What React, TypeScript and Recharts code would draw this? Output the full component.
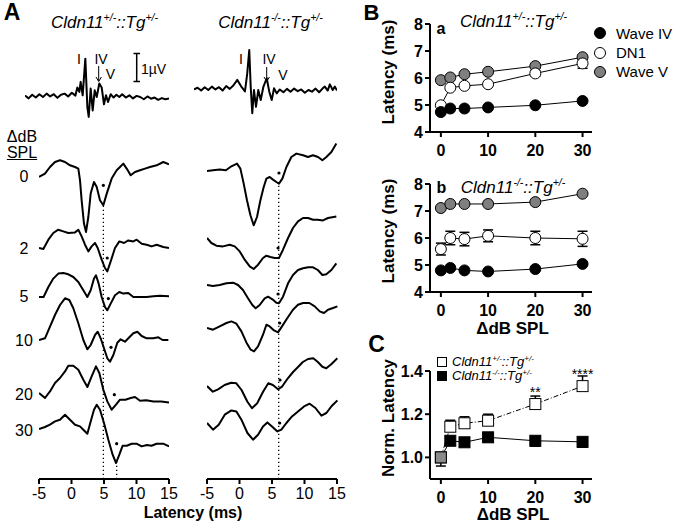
import React from 'react';
import {
	LineChart,
	Line,
	XAxis,
	YAxis,
	ErrorBar,
	ReferenceLine,
	ReferenceDot,
	LabelList,
} from 'recharts';

const FONT = '"Liberation Sans", Arial, Helvetica, sans-serif';

type Pt = [number, number];

// ---- Panel A: averaged ABR (top, µV) vs latency (ms)
const hetAvg: Pt[] = [
	[-5, 0.05], [-4.5, -0.05], [-4, 0.08], [-3.5, -0.02], [-3, 0.1], [-2.5, 0], [-2, 0.12],
	[-1.5, 0.02], [-1, 0.1], [-0.5, -0.03], [0, 0.08], [0.5, 0.12], [1, 0.02], [1.5, 0.15],
	[2, 0.05], [2.27, 0.34], [2.55, 0.18], [2.73, 0.54], [3.01, 0.06], [3.38, 1.37],
	[3.66, -0.36], [3.85, -0.71], [4.12, 0.3], [4.4, -0.48], [4.68, 0.24], [4.96, 0],
	[5.32, 0.48], [5.65, 0.34], [5.97, -0.26], [6.25, 0.06], [6.53, -0.18], [6.9, 0.1],
	[7.3, -0.02], [7.7, 0.08], [8.1, 0], [8.5, 0.1], [9, -0.02], [9.5, 0.06], [10, -0.05],
	[10.5, 0.04], [11, 0], [11.5, -0.08], [12, 0.02], [12.5, -0.06], [13, -0.02],
	[13.5, -0.1], [14, -0.04], [14.5, -0.08], [15, -0.05],
];
const koAvg: Pt[] = [
	[-5, 0.02], [-4.5, 0.08], [-4, -0.02], [-3.5, 0.1], [-3, 0], [-2.5, 0.12], [-2, 0.02],
	[-1.5, 0.1], [-1, -0.02], [-0.5, 0.14], [0, 0.04], [0.5, 0.16], [1.06, 0.36], [1.67, 0.1],
	[2.13, -0.05], [2.45, 0.6], [2.73, 1.43], [2.93, 0.12], [3.15, -0.83], [3.39, 0],
	[3.67, -0.6], [3.99, 0], [4.33, -0.36], [4.69, 0.1], [5.17, 0.42], [5.53, -0.06],
	[5.87, -0.36], [6.19, 0.06], [6.57, -0.12], [7, 0.02], [7.5, -0.08], [8, 0.04],
	[8.5, -0.06], [9, 0.05], [9.5, -0.04], [10, 0.02], [10.5, -0.1], [11, 0], [11.5, -0.06],
	[12, 0.05], [12.5, -0.08], [13, 0.06], [13.3, 0.12], [13.7, -0.02], [14, 0.2],
	[14.4, 0], [14.7, 0.12], [15, -0.02],
];

// ---- Panel A: waveforms per ΔdB SPL step (amplitude, a.u.)
const dbSteps = ['0', '2', '5', '10', '20', '30'];

const het0: Pt[] = [
	[-5, 0], [-4.08, 0.34], [-3.31, 1.0], [-2.54, 1.5], [-1.77, 1.67], [-1.0, 1.5], [-0.23, 1.17],
	[0.54, 1.0], [1.05, 0.84], [1.31, -0.33], [1.56, -2.33], [1.92, -4.66], [2.23, -5.5],
	[2.59, -4.0], [2.95, -1.66], [3.46, -0.5], [3.88, -1.0], [4.38, -2.33], [4.9, -2.83],
	[5.42, -1.66], [6.18, -0.16], [6.95, 0.67], [7.46, 1.0], [7.97, 1.34], [8.49, 0.84],
	[9.1, 0.17], [9.77, 0.5], [10.54, 0.67], [11.31, 0.84], [12.08, 1.0], [13.1, 1.17],
	[14.12, 1.5], [15, 1.27],
];
const het2: Pt[] = [
	[-5, 0], [-4.33, -0.1], [-3.56, 0.83], [-2.8, 1.5], [-2.03, 1.83], [-1.26, 1.66], [-0.49, 1.5],
	[0.54, 1.56], [1.05, 1.83], [1.56, 1.16], [2.08, 0.33], [2.59, -0.34], [3.1, 0.16],
	[3.62, 0.5], [4.03, 0], [4.64, -1.17], [5.15, -2.0], [5.51, -2.34], [6.03, -1.34],
	[6.69, 0], [7.36, 0.66], [8.08, 0.5], [8.74, 0.76], [9.51, 0.66], [10.03, 0.83],
	[10.8, 0.43], [11.56, 0.33], [12.33, 0.16], [13.1, 0.33], [14.12, 0.1], [15, 0],
];
const het5: Pt[] = [
	[-5, 0], [-4.3, 0], [-3.56, 1.0], [-2.8, 1.84], [-2.03, 2.34], [-1.26, 2.4], [-0.49, 2.27],
	[0.28, 2.0], [1.05, 1.5], [1.82, 0.67], [2.44, 0], [2.95, 0.67], [3.46, 1.84], [3.77, 2.17],
	[4.18, 1.34], [4.64, 0], [5.15, -1.0], [5.51, -1.33], [6.03, -0.66], [6.69, 0.17],
	[7.36, 0.5], [7.97, 0.34], [8.74, 0.4], [9.51, 0], [10.54, 0], [11.56, 0], [12.59, 0.07],
	[13.6, 0.13], [15, 0.07],
];
const het10: Pt[] = [
	[-5, 0], [-4.08, 0.17], [-3.31, 1.33], [-2.54, 2.5], [-1.77, 3.5], [-1.0, 4.17], [-0.34, 4.0],
	[0.28, 3.17], [1.05, 1.67], [1.82, 0], [2.44, -0.93], [2.95, -0.5], [3.62, 0.5], [4.03, 0.83],
	[4.49, 0.17], [5.0, -0.83], [5.51, -1.83], [5.92, -2.17], [6.44, -1.5], [7.05, -0.27],
	[7.56, 0.07], [8.23, -0.17], [8.9, 0.27], [9.51, 0.67], [10.13, 0.83], [10.8, 0.4],
	[11.56, 0.17], [12.59, 0.17], [13.36, 0.27], [14.02, 0], [14.9, 0],
];
const het20: Pt[] = [
	[-5, 0], [-4.08, -0.5], [-3.31, 0.16], [-2.54, 1.0], [-1.77, 1.5], [-1.0, 2.16], [-0.49, 2.73],
	[0.28, 2.73], [1.05, 2.33], [1.82, 1.33], [2.44, 0.6], [3.1, 1.66], [3.77, 2.66], [4.28, 2.0],
	[4.9, 0.33], [5.51, -0.84], [6.18, -1.67], [6.85, -1.17], [7.46, -0.67], [8.3, -0.67],
	[9.1, -0.5], [9.77, -0.4], [10.54, -0.77], [11.5, -0.73], [12.6, -0.84], [13.8, -0.84],
	[15, -0.94],
];
const het30: Pt[] = [
	[-5, 0], [-4.08, 0.2], [-3.31, 0.43], [-2.54, 0.76], [-1.77, 0.93], [-1.0, 1.43], [-0.23, 0.93],
	[0.54, 0.43], [1.31, 0.26], [1.82, -0.07], [2.44, -0.47], [2.95, 0.76], [3.46, 1.93],
	[3.88, 2.43], [4.38, 1.93], [5.0, 0.6], [5.67, -1.07], [6.33, -2.57], [6.85, -3.4],
	[7.36, -2.57], [7.87, -1.67], [8.5, -1.67], [9.26, -1.47], [10.0, -1.47], [10.8, -1.74],
	[11.6, -1.6], [12.3, -1.67], [13.1, -1.47], [14.1, -1.47], [15, -1.74],
];
// wave V marks (latency, amplitude)
const hetMarks: Pt[] = [[4.9, -0.83], [5.5, -1.0], [5.67, -0.16], [6.08, -0.73], [6.59, -0.17], [6.95, -1.47]];

const ko0: Pt[] = [
	[-5, 0], [-4.08, 0.07], [-3.05, 0.14], [-2.1, 0.07], [-1.26, 0.47], [-0.4, 0.74], [0.12, 0.24],
	[0.63, -1.26], [1.13, -2.93], [1.66, -4.43], [2.16, -5.43], [2.67, -4.6], [3.19, -2.93],
	[3.7, -1.6], [4.11, -0.76], [4.62, -0.6], [5.12, -0.86], [5.64, -1.1], [6.04, -1.26],
	[6.56, -0.76], [7.18, 0.4], [7.94, 1.4], [8.71, 1.74], [9.73, 1.57], [10.49, 1.4],
	[11.26, 1.57], [12.03, 1.4], [12.7, 1.07], [13.31, 1.4], [14.08, 1.9], [14.84, 2.74],
];
const ko2: Pt[] = [
	[-5, 0], [-4.33, -0.5], [-3.56, -0.77], [-2.55, -0.84], [-1.52, -0.67], [-0.75, -0.84],
	[0.02, -1.34], [0.78, -2.17], [1.55, -2.84], [2.16, -3.1], [2.83, -2.67], [3.59, -2.0],
	[4.11, -1.77], [4.72, -1.9], [5.38, -2.0], [6.04, -2.0], [6.66, -1.17], [7.43, 0],
	[8.19, 1.0], [8.96, 1.66], [9.73, 2.0], [10.5, 2.0], [11.26, 1.83], [12.0, 1.83],
	[12.79, 1.76], [13.56, 2.0], [14.84, 2.16],
];
const ko5: Pt[] = [
	[-5, 0], [-4.1, -0.1], [-3.05, 0], [-2.02, 0.17], [-1.0, 0.23], [-0.24, 0], [0.52, -0.5],
	[1.29, -1.33], [1.96, -2.0], [2.47, -2.33], [3.08, -2.0], [3.85, -1.33], [4.36, -1.17],
	[5.03, -1.43], [5.64, -1.77], [6.04, -1.83], [6.66, -1.17], [7.43, 0.17], [8.19, 1.0],
	[8.96, 1.5], [9.73, 1.67], [10.5, 1.77], [11.26, 1.77], [12.0, 1.5], [12.7, 1.0],
	[13.3, 1.07], [14.08, 1.5], [14.84, 2.17],
];
const ko10: Pt[] = [
	[-5, 0], [-4.08, -0.17], [-3.05, 0.16], [-2.02, 0.5], [-1.26, 0.66], [-0.49, 0.43],
	[0.28, -0.34], [1.04, -1.44], [1.7, -2.17], [2.21, -2.34], [2.83, -1.84], [3.59, -0.67],
	[4.11, 0.33], [4.62, 0.16], [5.28, -0.24], [5.9, -0.44], [6.5, 0.16], [7.33, 1.0],
	[8.19, 1.83], [8.96, 2.33], [9.73, 2.5], [10.7, 2.5], [11.52, 2.16], [12.29, 1.66],
	[12.94, 1.5], [13.56, 1.83], [14.33, 2.0], [15, 2.16],
];
const ko20: Pt[] = [
	[-5, 0], [-4.1, -0.57], [-3.3, -0.33], [-2.3, 0.1], [-1.3, 0.33], [-0.5, 0.27], [0.3, -0.4],
	[1.2, -1.57], [1.9, -2.23], [2.7, -1.73], [3.6, -0.57], [4.4, 0.27], [5.1, 0.1], [5.9, -0.33],
	[6.5, -0.07], [7.4, 0.77], [8.2, 1.4], [9.0, 1.93], [9.7, 2.4], [10.5, 2.7], [11.3, 2.77],
	[12.0, 2.4], [12.7, 1.93], [13.3, 1.77], [14.1, 2.2], [15, 2.77],
];
const ko30: Pt[] = [
	[-5, 0], [-4.08, -0.67], [-3.2, -0.17], [-2.28, 0.83], [-1.26, 1.26], [-0.49, 1.16],
	[0.28, 0.33], [1.2, -1.0], [2.06, -1.67], [2.83, -1.17], [3.59, -0.34], [4.26, 0.06],
	[4.97, -0.34], [5.8, -0.84], [6.41, -0.67], [7.18, 0], [8.04, 0.66], [8.96, 1.16],
	[9.88, 1.66], [10.75, 1.93], [11.63, 1.5], [12.55, 0.73], [13.31, 1.0], [14.17, 1.73],
	[15, 2.26],
];
const koMarks: Pt[] = [[6.04, -0.2], [5.9, -1.0], [5.9, -0.9], [6.15, 0.5], [6.2, 0.6], [6.15, 0]];

const hetTraces = [het0, het2, het5, het10, het20, het30];
const koTraces = [ko0, ko2, ko5, ko10, ko20, ko30];

// dotted guides at wave V latency (ms)
const hetGuides = [4.9, 6.95];
const koGuides = [6.0];

// ---- Panel B/C: latency vs ΔdB SPL
const dbLevels = [0, 2, 5, 10, 20, 30];

const hetWaveIV = [4.74, 4.87, 4.87, 4.91, 4.99, 5.15];
const hetDN1 = [4.99, 5.64, 5.71, 5.77, 6.17, 6.54];
const hetDN1Err = [0.05, 0.06, 0.06, 0.06, 0.1, 0.18];
const hetWaveV = [5.92, 6.02, 6.14, 6.23, 6.44, 6.77];

const koWaveIV = [4.8, 4.89, 4.8, 4.76, 4.85, 5.04];
const koDN1 = [5.59, 6.0, 5.96, 6.08, 6.0, 5.97];
const koDN1Err = [0.22, 0.25, 0.25, 0.22, 0.25, 0.28];
const koWaveV = [7.11, 7.26, 7.26, 7.26, 7.33, 7.64];

const normHet = [1.0, 1.142, 1.158, 1.17, 1.247, 1.33];
const normHetErr: Pt[] = [[0.04, 0], [0, 0.03], [0, 0.03], [0, 0.03], [0, 0.037], [0, 0.047]];
const normKo = [1.0, 1.077, 1.07, 1.093, 1.077, 1.072];
const normKoErr: Pt[] = [[0, 0], [0.02, 0], [0.015, 0], [0.02, 0], [0.025, 0], [0.025, 0]];
const normSig = ['', '', '', '', '**', '****'];

// layout (px)
const hetTops = [126.7, 198.3, 246.7, 290, 343.3, 379.3];
const koTops = [120.7, 188.3, 235, 278.3, 336, 373.3];
const labelYs = [177, 248.5, 297, 341, 395, 431];

const toRows = (pts: Pt[]) => pts.map(([t, v]) => ({ t, v }));

const Sup = ({ children }: { children: React.ReactNode }) => (
	<span style={{ fontSize: '0.62em', verticalAlign: '0.6em', lineHeight: 0 }}>{children}</span>
);

const Geno = ({ cl, tg }: { cl: string; tg: string }) => (
	<span style={{ fontStyle: 'italic' }}>
		Cldn11<Sup>{cl}</Sup>::Tg<Sup>{tg}</Sup>
	</span>
);

const Txt = ({ x, y, size = 16, bold = false, italic = false, rotate = 0, children }: any) => (
	<div
		style={{
			position: 'absolute',
			left: x,
			top: y,
			transform: `translate(-50%, -50%) rotate(${rotate}deg)`,
			fontSize: size,
			fontWeight: bold ? 'bold' : 'normal',
			fontStyle: italic ? 'italic' : 'normal',
			whiteSpace: 'nowrap',
			lineHeight: 1,
			color: '#000',
		}}
	>
		{children}
	</div>
);

const Wave = ({ pts, mark, left, top, width, height, domain, sw = 2 }: any) => (
	<div style={{ position: 'absolute', left, top }}>
		<LineChart width={width} height={height} data={toRows(pts)} margin={{ top: 0, right: 0, bottom: 0, left: 0 }}>
			<XAxis type='number' dataKey='t' domain={[-5, 15]} hide />
			<YAxis type='number' domain={domain} hide />
			<Line dataKey='v' stroke='#000' strokeWidth={sw} dot={false} isAnimationActive={false} strokeLinejoin='round' />
			{mark && <ReferenceDot x={mark[0]} y={mark[1]} r={1.6} fill='#000' stroke='none' />}
		</LineChart>
	</div>
);

// dotted vertical guide spanning the whole chart height
const Guide = ({ left, top, width, height, at, pts }: any) => (
	<div style={{ position: 'absolute', left, top }}>
		<LineChart width={width} height={height} data={toRows(pts)} margin={{ top: 0, right: 0, bottom: 0, left: 0 }}>
			<XAxis type='number' dataKey='t' domain={[-5, 15]} hide />
			<YAxis type='number' domain={[-6, 5]} hide allowDataOverflow />
			<Line dataKey='v' stroke='none' dot={false} isAnimationActive={false} />
			<ReferenceLine x={at} stroke='#000' strokeWidth={1.3} strokeDasharray='1.3 2.7' ifOverflow='visible' />
		</LineChart>
	</div>
);

// latency axis: plot area is 10px tall, axis line at its bottom
const LatAxis = ({ left, top, pts }: any) => (
	<div style={{ position: 'absolute', left, top }}>
		<LineChart width={160} height={40} data={toRows(pts)} margin={{ top: 0, right: 15, bottom: 0, left: 15 }}>
			<XAxis
				type='number'
				dataKey='t'
				domain={[-5, 15]}
				ticks={[-5, 0, 5, 10, 15]}
				height={30}
				axisLine={{ stroke: '#000', strokeWidth: 2 }}
				tickLine={{ stroke: '#000', strokeWidth: 2 }}
				tickSize={5}
				tickMargin={4}
				tick={{ fill: '#000', fontSize: 16, fontFamily: FONT }}
			/>
			<YAxis type='number' hide />
			<Line dataKey='v' stroke='none' dot={false} isAnimationActive={false} />
		</LineChart>
	</div>
);

const circleDot = (fill: string) => (p: any) =>
	<circle key={p.index} cx={p.cx} cy={p.cy} r={5.5} fill={fill} stroke='#000' strokeWidth={1} />;

const squareDot = (fillFor: (x: number) => string) => (p: any) =>
	<rect key={p.index} x={p.cx - 5.5} y={p.cy - 5.5} width={11} height={11} fill={fillFor(p.payload.db)} stroke='#000' strokeWidth={1} />;

const boldTick = { fill: '#000', fontSize: 16, fontWeight: 'bold', fontFamily: FONT };

const LatencyPanel = ({ top, iv, dn, dnErr, v }: any) => {
	const rows = dbLevels.map((db, i) => ({ db, iv: iv[i], dn: dn[i], dnErr: dnErr[i], v: v[i] }));
	return (
		<div style={{ position: 'absolute', left: 360, top }}>
			<LineChart width={242} height={158} data={rows} margin={{ top: 10, right: 10, bottom: 0, left: 0 }}>
				<XAxis
					type='number'
					dataKey='db'
					domain={[-2.3, 32]}
					ticks={[0, 10, 20, 30]}
					height={40}
					axisLine={{ stroke: '#000', strokeWidth: 2 }}
					tickLine={{ stroke: '#000', strokeWidth: 2 }}
					tickSize={5}
					tickMargin={8}
					tick={boldTick}
				/>
				<YAxis
					type='number'
					domain={[4, 8]}
					ticks={[4, 5, 6, 7, 8]}
					width={70}
					axisLine={{ stroke: '#000', strokeWidth: 2 }}
					tickLine={{ stroke: '#000', strokeWidth: 2 }}
					tickSize={5}
					tickMargin={2}
					tick={boldTick}
				/>
				<Line dataKey='v' stroke='#000' strokeWidth={1} dot={circleDot('#7f7f7f')} isAnimationActive={false} />
				<Line dataKey='dn' stroke='#000' strokeWidth={1} dot={circleDot('#fff')} isAnimationActive={false}>
					<ErrorBar dataKey='dnErr' direction='y' width={5} stroke='#000' strokeWidth={1.5} />
				</Line>
				<Line dataKey='iv' stroke='#000' strokeWidth={1} dot={circleDot('#000')} isAnimationActive={false} />
			</LineChart>
		</div>
	);
};

const NormPanel = () => {
	const rows = dbLevels.map((db, i) => ({
		db,
		het: normHet[i],
		hetErr: normHetErr[i],
		ko: normKo[i],
		koErr: normKoErr[i],
		sig: normSig[i],
	}));
	return (
		<div style={{ position: 'absolute', left: 360, top: 361 }}>
			<LineChart width={242} height={158} data={rows} margin={{ top: 10, right: 10, bottom: 0, left: 0 }}>
				<XAxis
					type='number'
					dataKey='db'
					domain={[-2.3, 32]}
					ticks={[0, 10, 20, 30]}
					height={40}
					axisLine={{ stroke: '#000', strokeWidth: 2 }}
					tickLine={{ stroke: '#000', strokeWidth: 2 }}
					tickSize={5}
					tickMargin={8}
					tick={boldTick}
				/>
				<YAxis
					type='number'
					domain={[0.9, 1.4]}
					ticks={[1.0, 1.2, 1.4]}
					tickFormatter={(t: number) => t.toFixed(1)}
					width={70}
					axisLine={{ stroke: '#000', strokeWidth: 2 }}
					tickLine={{ stroke: '#000', strokeWidth: 2 }}
					tickSize={5}
					tickMargin={2}
					tick={boldTick}
				/>
				<Line dataKey='ko' stroke='#000' strokeWidth={1} dot={squareDot(() => '#000')} isAnimationActive={false}>
					<ErrorBar dataKey='koErr' direction='y' width={5} stroke='#000' strokeWidth={1.5} />
				</Line>
				<Line
					dataKey='het'
					stroke='#000'
					strokeWidth={1}
					strokeDasharray='5 2 1 2'
					dot={squareDot((x) => (x === 0 ? '#8a8a8a' : '#fff'))}
					isAnimationActive={false}
				>
					<ErrorBar dataKey='hetErr' direction='y' width={5} stroke='#000' strokeWidth={1.5} />
					<LabelList dataKey='sig' position='top' offset={7} style={{ fontSize: 14, fill: '#000', fontFamily: FONT }} />
				</Line>
			</LineChart>
		</div>
	);
};

const LegendCircle = ({ fill }: { fill: string }) => (
	<svg width={14} height={14} style={{ display: 'block' }}>
		<circle cx={7} cy={7} r={5.5} fill={fill} stroke='#000' strokeWidth={1} />
	</svg>
);

export default function App() {
	return (
		<div
			style={{
				position: 'absolute',
				left: 0,
				top: 0,
				width: 675,
				height: 523,
				background: '#fff',
				overflow: 'hidden',
				fontFamily: FONT,
			}}
		>
			{/* Panel A */}
			<Txt x={12} y={12} size={23} bold>A</Txt>
			<Txt x={104.5} y={22} size={17}><Geno cl='+/-' tg='+/-' /></Txt>
			<Txt x={270.5} y={22} size={17}><Geno cl='-/-' tg='+/-' /></Txt>

			<Wave pts={hetAvg} left={25} top={54.7} width={144} height={70} domain={[-1, 1.5]} />
			<Wave pts={koAvg} left={194} top={48} width={143} height={70} domain={[-1, 1.5]} />

			<Txt x={79} y={59} size={14}>I</Txt>
			<Txt x={101} y={59} size={14}>IV</Txt>
			<Txt x={110.5} y={74} size={14}>V</Txt>
			<Txt x={241} y={59} size={14}>I</Txt>
			<Txt x={269} y={59} size={14}>IV</Txt>
			<Txt x={283} y={75} size={14}>V</Txt>
			<Txt x={153.5} y={69} size={14}>1µV</Txt>
			<svg width={340} height={100} style={{ position: 'absolute', left: 0, top: 0 }}>
				<g stroke='#000' strokeWidth={1} fill='none'>
					<line x1={98.7} y1={66} x2={98.7} y2={81} />
					<polyline points='96,77 98.7,81.5 101.4,77' />
					<line x1={266.7} y1={67} x2={266.7} y2={81} />
					<polyline points='264,77 266.7,81.5 269.4,77' />
					<line x1={136.7} y1={53.5} x2={136.7} y2={81.5} strokeWidth={1.5} />
					<line x1={133.5} y1={53.5} x2={140} y2={53.5} strokeWidth={1.5} />
					<line x1={133.5} y1={81.5} x2={140} y2={81.5} strokeWidth={1.5} />
				</g>
			</svg>

			<Txt x={22} y={137} size={16}>ΔdB</Txt>
			<Txt x={22} y={153} size={16}>
				<span style={{ textDecoration: 'underline' }}>SPL</span>
			</Txt>
			{dbSteps.map((s, i) => (
				<Txt key={s} x={24} y={labelYs[i]} size={16}>{s}</Txt>
			))}

			<Guide left={39} top={205} width={130} height={274} at={hetGuides[0]} pts={het30} />
			<Guide left={39} top={462} width={130} height={17} at={hetGuides[1]} pts={het30} />
			<Guide left={207.3} top={183} width={130.4} height={296} at={koGuides[0]} pts={ko30} />

			<LatAxis left={24} top={469} pts={het30} />
			<LatAxis left={192.3} top={469} pts={ko30} />

			{hetTraces.map((pts, i) => (
				<Wave key={'h' + i} pts={pts} mark={hetMarks[i]} left={39} top={hetTops[i]} width={130} height={110} domain={[-6, 5]} />
			))}
			{koTraces.map((pts, i) => (
				<Wave key={'k' + i} pts={pts} mark={koMarks[i]} left={207.3} top={koTops[i]} width={130.4} height={110} domain={[-6, 5]} />
			))}

			<Txt x={193} y={513} size={16} bold>Latency (ms)</Txt>

			{/* Panel B */}
			<Txt x={371.5} y={12.5} size={22} bold>B</Txt>
			<LatencyPanel top={14} iv={hetWaveIV} dn={hetDN1} dnErr={hetDN1Err} v={hetWaveV} />
			<LatencyPanel top={174} iv={koWaveIV} dn={koDN1} dnErr={koDN1Err} v={koWaveV} />
			<Txt x={441} y={29} size={16} bold>a</Txt>
			<Txt x={441.5} y={188} size={16} bold>b</Txt>
			<Txt x={513.5} y={21} size={17}><Geno cl='+/-' tg='+/-' /></Txt>
			<Txt x={513} y={187} size={17}><Geno cl='-/-' tg='+/-' /></Txt>
			<Txt x={387.5} y={71.5} size={17} bold rotate={-90}>Latency (ms)</Txt>
			<Txt x={387.5} y={231} size={17} bold rotate={-90}>Latency (ms)</Txt>
			<Txt x={512.5} y={328} size={17} bold>ΔdB SPL</Txt>

			{[
				{ fill: '#000', label: 'Wave IV', y: 33.3 },
				{ fill: '#fff', label: 'DN1', y: 52.5 },
				{ fill: '#7f7f7f', label: 'Wave V', y: 71.7 },
			].map((it) => (
				<div
					key={it.label}
					style={{ position: 'absolute', left: 593, top: it.y - 8, height: 16, display: 'flex', alignItems: 'center', fontSize: 15, whiteSpace: 'nowrap' }}
				>
					<LegendCircle fill={it.fill} />
					<span style={{ marginLeft: 9 }}>{it.label}</span>
				</div>
			))}

			{/* Panel C */}
			<Txt x={376.5} y={344} size={23} bold>C</Txt>
			<NormPanel />
			<Txt x={388} y={418} size={17} bold rotate={-90}>Norm. Latency</Txt>
			<Txt x={513} y={514} size={17} bold>ΔdB SPL</Txt>
			{[
				{ fill: '#fff', cl: '+/-', y: 361.7 },
				{ fill: '#000', cl: '-/-', y: 375.7 },
			].map((it) => (
				<div
					key={it.cl}
					style={{ position: 'absolute', left: 437, top: it.y - 7, height: 14, display: 'flex', alignItems: 'center', fontSize: 13, whiteSpace: 'nowrap' }}
				>
					<svg width={10} height={10} style={{ display: 'block' }}>
						<rect x={0.5} y={0.5} width={9} height={9} fill={it.fill} stroke='#000' strokeWidth={1} />
					</svg>
					<span style={{ marginLeft: 5 }}>
						<Geno cl={it.cl} tg='+/-' />
					</span>
				</div>
			))}
		</div>
	);
}
